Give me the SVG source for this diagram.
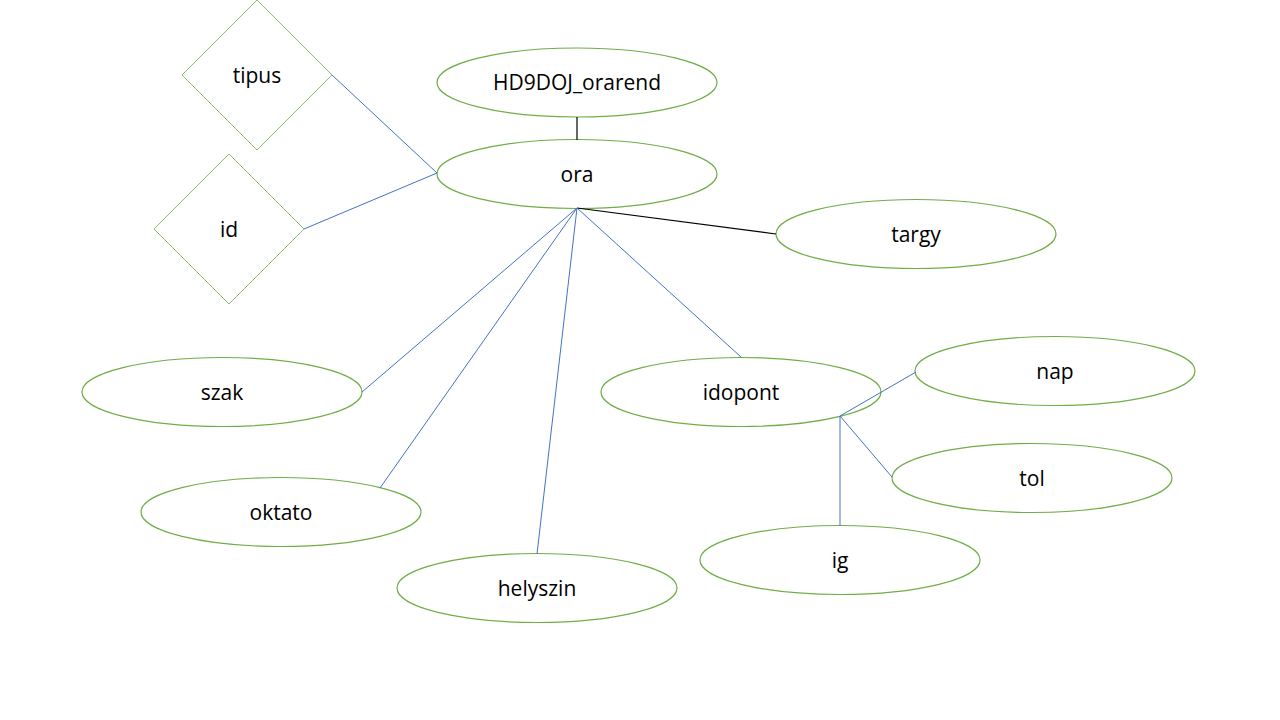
<svg xmlns="http://www.w3.org/2000/svg" width="1280" height="720" viewBox="0 0 1280 720">
<style>
.e{fill:#fff;stroke:#70AD47;stroke-width:1.2}
.d{fill:#fff;stroke:#70AD47;stroke-width:0.8}
.t{font-family:"Open Sans","Liberation Sans",sans-serif;font-size:21px;fill:#000;text-anchor:middle;dominant-baseline:central}
.b{stroke:#4472C4;stroke-width:1;fill:none}
.k{stroke:#000;stroke-width:1.2;fill:none}
</style>
<rect width="1280" height="720" fill="#fff"/>
<g id="tipus"><polygon class="d" points="257,0 332,75 257,150 182,75"/><text class="t" x="257" y="75">tipus</text></g>
<g id="id"><polygon class="d" points="229,154 304,229 229,304 154,229"/><text class="t" x="229" y="229">id</text></g>
<g id="HD9DOJ_orarend"><ellipse class="e" cx="577" cy="82.5" rx="140" ry="34.5"/><text class="t" x="577" y="82">HD9DOJ_orarend</text></g>
<g id="ora"><ellipse class="e" cx="577" cy="174" rx="140" ry="34.5"/><text class="t" x="577" y="174">ora</text></g>
<g id="targy"><ellipse class="e" cx="916" cy="234" rx="140" ry="34.5"/><text class="t" x="916" y="234">targy</text></g>
<g id="szak"><ellipse class="e" cx="222" cy="392" rx="140" ry="34.5"/><text class="t" x="222" y="392">szak</text></g>
<g id="idopont"><ellipse class="e" cx="741" cy="392" rx="140" ry="34.5"/><text class="t" x="741" y="392">idopont</text></g>
<g id="nap"><ellipse class="e" cx="1055" cy="371" rx="140" ry="34.5"/><text class="t" x="1055" y="371">nap</text></g>
<g id="tol"><ellipse class="e" cx="1032" cy="478" rx="140" ry="34.5"/><text class="t" x="1032" y="478">tol</text></g>
<g id="oktato"><ellipse class="e" cx="281" cy="512" rx="140" ry="34.5"/><text class="t" x="281" y="512">oktato</text></g>
<g id="ig"><ellipse class="e" cx="840" cy="560" rx="140" ry="34.5"/><text class="t" x="840" y="560">ig</text></g>
<g id="helyszin"><ellipse class="e" cx="537" cy="588" rx="140" ry="34.5"/><text class="t" x="537" y="588">helyszin</text></g>
<g id="connectors">
<line class="b" x1="332" y1="75" x2="437" y2="173"/>
<line class="b" x1="304" y1="229" x2="437" y2="173"/>
<line class="k" x1="577" y1="117" x2="577" y2="140"/>
<line class="k" x1="577" y1="208" x2="776" y2="234"/>
<line class="b" x1="577" y1="208" x2="362" y2="392"/>
<line class="b" x1="577" y1="208" x2="380" y2="488"/>
<line class="b" x1="577" y1="208" x2="537" y2="554"/>
<line class="b" x1="577" y1="208" x2="741" y2="357"/>
<line class="b" x1="840" y1="416" x2="916" y2="372"/>
<line class="b" x1="840" y1="416" x2="892" y2="477"/>
<line class="b" x1="840" y1="416" x2="840" y2="526"/>
</g>
</svg>
